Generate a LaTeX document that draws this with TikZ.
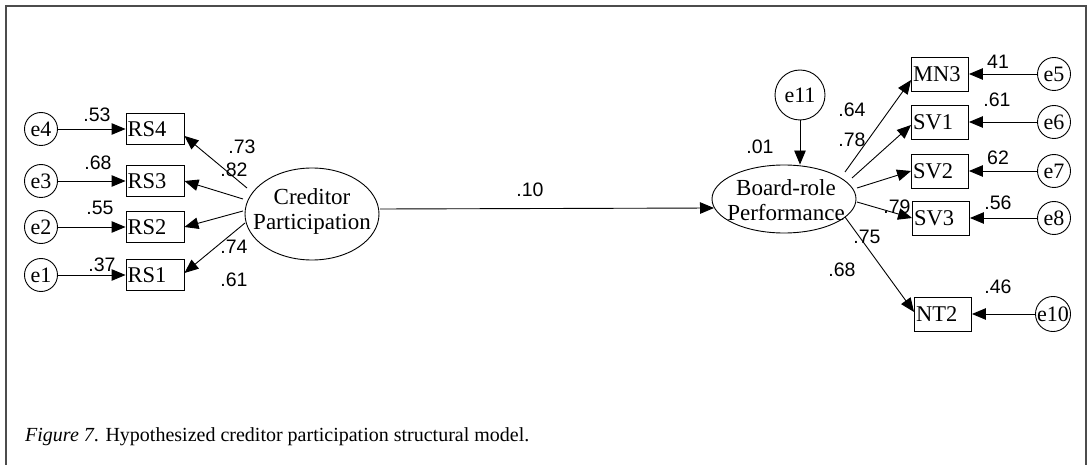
\documentclass[tikz,border=0pt]{standalone}
\usepackage{fontspec}
\newfontfamily\numfont{Liberation Sans}
\newfontfamily\capfont{Liberation Serif}
\newfontfamily\labfont{Liberation Serif}
\usetikzlibrary{arrows.meta,shapes.geometric,calc}

\begin{document}
\begin{tikzpicture}[x=1pt,y=-1pt,
  every node/.style={inner sep=0pt},
  obs/.style={draw, line width=0.9pt, minimum height=31pt, inner xsep=1.5pt,
    text width=55pt, align=left,
    font=\labfont\fontsize{22.5}{24}\selectfont},
  obsr/.style={obs, text width=54pt, minimum height=34pt},
  err/.style={draw, circle, line width=0.9pt, minimum size=33pt,
    font=\labfont\fontsize{22}{24}\selectfont},
  lat/.style={draw, ellipse, line width=0.9pt},
  lattext/.style={align=center, font=\labfont\fontsize{23}{25}\selectfont},
  arr/.style={line width=0.9pt, -{Triangle[length=14pt,width=11.5pt]}},
  coef/.style={font=\numfont\fontsize{19.5}{20}\selectfont},
  frame/.style={line width=1.6pt, gray!60!black},
]
\useasboundingbox (0,0) rectangle (1090,465);

% outer frame (open at the bottom)
\draw[frame] (6,465) -- (6,6) -- (1086,6) -- (1086,465);

% ---- exogenous latent and its indicators ----
\node[lat, minimum width=134pt, minimum height=92pt] (cp) at (312,214) {};
\node[lattext] (cpt) at (312,211) {Creditor\\Participation};

\node[obs] (rs4) at (155,129) {RS4};
\node[obs] (rs3) at (155,181) {RS3};
\node[obs] (rs2) at (155,227) {RS2};
\node[obs] (rs1) at (155,275) {RS1};

\node[err] (e4) at (41,129) {e4};
\node[err] (e3) at (41,181) {e3};
\node[err] (e2) at (41,227) {e2};
\node[err] (e1) at (41,275) {e1};

\draw[arr] (e4) -- (rs4);
\draw[arr] (e3) -- (rs3);
\draw[arr] (e2) -- (rs2);
\draw[arr] (e1) -- (rs1);

\draw[arr] ($(cp.center)+(-65,-26)$) -- ($(rs4.south east)+(0,-9)$);
\draw[arr] ($(cp.center)+(-69,-15)$) -- (rs3.east);
\draw[arr] ($(cp.center)+(-69,-3)$) -- (rs2.east);
\draw[arr] ($(cp.center)+(-67,9)$) -- ($(rs1.east)+(0,-2)$);

\node[coef] at (97,115) {.53};
\node[coef] at (98,163) {.68};
\node[coef] at (100,208) {.55};
\node[coef] at (102,265) {.37};
\node[coef] at (242,147) {.73};
\node[coef] at (234,170) {.82};
\node[coef] at (234,247) {.74};
\node[coef] at (234,280) {.61};

% ---- endogenous latent ----
\node[lat, minimum width=144pt, minimum height=68pt] (br) at (784,199) {};
\node[lattext] (brt) at (786,200) {Board-role\\Performance};

\node[err, minimum size=50pt] (e11) at (800,95) {e11};
\draw[arr] (e11) -- (e11 |- br.north);
\node[coef] at (760,147) {.01};

% structural path
\draw[arr] ($(cp.center)+(68,-5)$) -- ($(br.center)+(-70,9)$);
\node[coef] at (530,190) {.10};

% ---- indicators of the endogenous latent ----
\node[obsr] (mn3) at (940,74) {MN3};
\node[obsr] (sv1) at (940,122) {SV1};
\node[obsr] (sv2) at (940,171) {SV2};
\node[obsr] (sv3) at (941,218) {SV3};
\node[obsr] (nt2) at (943,314) {NT2};

\node[err] (e5) at (1054,74) {e5};
\node[err] (e6) at (1054,122) {e6};
\node[err] (e7) at (1054,171) {e7};
\node[err] (e8) at (1054,218) {e8};
\node[err] (e10) at (1053,314) {e10};

\draw[arr] (e5) -- (mn3);
\draw[arr] (e6) -- (sv1);
\draw[arr] (e7) -- (sv2);
\draw[arr] (e8) -- (sv3);
\draw[arr] (e10) -- (nt2);

\draw[arr] ($(br.center)+(61,-27)$) -- ($(mn3.west)+(0,6)$);
\draw[arr] ($(br.center)+(68,-21)$) -- ($(sv1.west)+(0,3)$);
\draw[arr] ($(br.center)+(73,-11)$) -- (sv2.west);
\draw[arr] ($(br.center)+(73,3)$) -- (sv3.west);
\draw[arr] ($(br.center)+(61,18)$) -- ($(nt2.west)+(0,-2)$);

\node[coef] at (852,110) {.64};
\node[coef] at (852,140) {.78};
\node[coef] at (897,207) {.79};
\node[coef] at (867,237) {.75};
\node[coef] at (842,270) {.68};
\node[coef] at (998,62) {41};
\node[coef] at (997,100) {.61};
\node[coef] at (998,158) {62};
\node[coef] at (998,203) {.56};
\node[coef] at (998,287) {.46};

% caption
\node[anchor=base west, font=\capfont\fontsize{20}{22}\selectfont] (cap) at (25,441)
  {\textit{Figure 7}. Hypothesized creditor participation structural model.};
\end{tikzpicture}
\end{document}
